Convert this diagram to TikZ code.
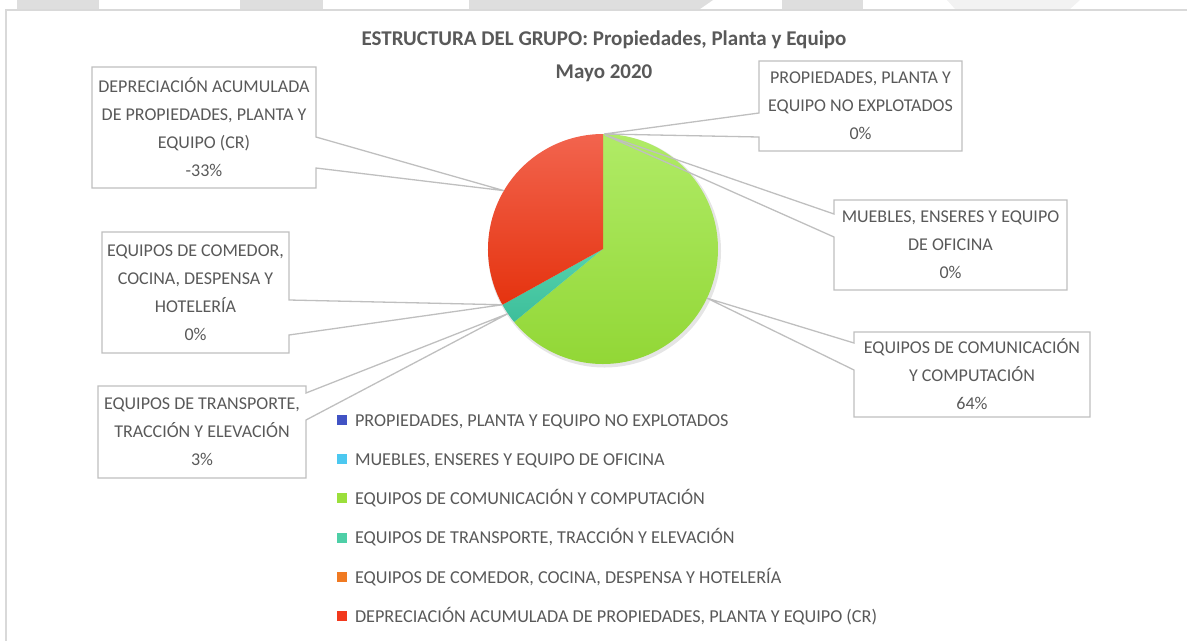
\documentclass[tikz,border=0pt]{standalone}
\usepackage{fontspec}
\setmainfont{Carlito}
\usetikzlibrary{positioning,calc}
\definecolor{txtgray}{HTML}{595959}
\definecolor{linegray}{HTML}{BFBFBF}
\definecolor{framegray}{HTML}{D9D9D9}
\definecolor{tabgray}{HTML}{DEDEDE}
\definecolor{tablight}{HTML}{F2F2F2}
\definecolor{legblue}{HTML}{4153C4}
\definecolor{legcyan}{HTML}{4CC8F0}
\definecolor{leggreen}{HTML}{9BDF3B}
\definecolor{legteal}{HTML}{4ECFA7}
\definecolor{legorange}{HTML}{F07A22}
\definecolor{legred}{HTML}{F2391D}
\definecolor{grntop}{HTML}{B0EB66}
\definecolor{grnbot}{HTML}{92D736}
\definecolor{redtop}{HTML}{F2644E}
\definecolor{redbot}{HTML}{E5330F}
\definecolor{tealtop}{HTML}{55D3AC}
\definecolor{tealbot}{HTML}{3DBE9B}
\begin{document}
\begin{tikzpicture}[x=1pt,y=1pt,inner sep=0pt,outer sep=0pt,
callout/.style={draw=linegray,line width=1.3pt,line join=miter},
lbl/.style={align=center,text=txtgray,font=\fontsize{18}{28}\selectfont},
ttl/.style={text=txtgray,font=\fontsize{21}{24}\bfseries\selectfont},
legsq/.style={minimum size=10pt},
legtxt/.style={anchor=west,text=txtgray,text height=12.5pt,text depth=0pt,font=\fontsize{18.2}{22}\selectfont}]
\useasboundingbox (0,0) rectangle (1187,-641);

% sheet tabs and chart frame
\fill[tabgray] (17,0) rectangle (99,-9);
\fill[tabgray] (240,0) rectangle (323,-9);
\fill[tabgray] (469,0) -- (713,0) -- (700,-9) -- (469,-9) -- cycle;
\fill[tabgray] (782,0) rectangle (863,-9);
\fill[tablight] (947,0) -- (1080,0) -- (1070,-9) -- (955,-9) -- cycle;
\draw[framegray,line width=1.5pt] (5,-10) -- (1187,-10);
\draw[framegray,line width=1.5pt] (6,-10) -- (6,-641);

% title
\node[ttl] (title) at (604,-40) {ESTRUCTURA DEL GRUPO: Propiedades, Planta y Equipo};
\node[ttl] (month) at (604,-73) {Mayo 2020};

% pie
\coordinate (c) at (603,-249);
\fill[black,opacity=0.10] ($(c)+(1.5,-2)$) circle[radius=116.5];
\shade[top color=grntop,bottom color=grnbot] (c) -- ++(90:115) arc[start angle=90,end angle=-140.6,radius=115] -- cycle;
\shade[top color=tealtop,bottom color=tealbot] (c) -- ++(-140.6:115) arc[start angle=-140.6,end angle=-151,radius=115] -- cycle;
\shade[top color=redtop,bottom color=redbot] (c) -- ++(209:115) arc[start angle=209,end angle=90,radius=115] -- cycle;

\coordinate (tdep) at ($(c)+(149.5:115)$);
\coordinate (tprop) at ($(c)+(1,115)$);
\coordinate (tmue) at ($(c)+(2,114)$);
\coordinate (tcom) at ($(c)+(-25.3:115)$);
\coordinate (tcome) at ($(c)+(209:115)$);
\coordinate (ttra) at ($(c)+(214.2:115)$);

% data labels
\node[lbl,minimum width=224pt,minimum height=121pt] (dep) at (204,-127.5)
  {DEPRECIACIÓN ACUMULADA\\DE PROPIEDADES, PLANTA Y\\EQUIPO (CR)\\-33\%};
\node[lbl,minimum width=203pt,minimum height=90pt] (prop) at (860.5,-106)
  {PROPIEDADES, PLANTA Y\\EQUIPO NO EXPLOTADOS\\0\%};
\node[lbl,minimum width=233pt,minimum height=90pt] (mue) at (950.5,-245)
  {MUEBLES, ENSERES Y EQUIPO\\DE OFICINA\\0\%};
\node[lbl,minimum width=236pt,minimum height=85pt] (com) at (972,-374.5)
  {EQUIPOS DE COMUNICACIÓN\\Y COMPUTACIÓN\\64\%};
\node[lbl,minimum width=187pt,minimum height=121pt] (come) at (195.5,-292.5)
  {EQUIPOS DE COMEDOR,\\COCINA, DESPENSA Y\\HOTELERÍA\\0\%};
\node[lbl,minimum width=208pt,minimum height=92pt] (tra) at (202,-432)
  {EQUIPOS DE TRANSPORTE,\\TRACCIÓN Y ELEVACIÓN\\3\%};

\draw[callout] (dep.north west) -- (dep.north east) -- (dep.east |- 0,-137) -- (tdep)
  -- (dep.east |- 0,-168) -- (dep.south east) -- (dep.south west) -- cycle;
\draw[callout] (come.north west) -- (come.north east) -- (come.east |- 0,-300) -- (tcome)
  -- (come.east |- 0,-335) -- (come.south east) -- (come.south west) -- cycle;
\draw[callout] (tra.north west) -- (tra.north east) -- (tra.east |- 0,-393) -- (ttra)
  -- (tra.east |- 0,-420) -- (tra.south east) -- (tra.south west) -- cycle;
\draw[callout] (prop.north east) -- (prop.north west) -- (prop.west |- 0,-113) -- (tprop)
  -- (prop.west |- 0,-137) -- (prop.south west) -- (prop.south east) -- cycle;
\draw[callout] (mue.north east) -- (mue.north west) -- (mue.west |- 0,-214) -- (tmue)
  -- (mue.west |- 0,-237) -- (mue.south west) -- (mue.south east) -- cycle;
\draw[callout] (com.north east) -- (com.north west) -- (com.west |- 0,-343) -- (tcom)
  -- (com.west |- 0,-370) -- (com.south west) -- (com.south east) -- cycle;

% legend
\foreach \col/\txt [count=\k] in {
  legblue/{PROPIEDADES, PLANTA Y EQUIPO NO EXPLOTADOS},
  legcyan/{MUEBLES, ENSERES Y EQUIPO DE OFICINA},
  leggreen/{EQUIPOS DE COMUNICACIÓN Y COMPUTACIÓN},
  legteal/{EQUIPOS DE TRANSPORTE, TRACCIÓN Y ELEVACIÓN},
  legorange/{EQUIPOS DE COMEDOR, COCINA, DESPENSA Y HOTELERÍA},
  legred/{DEPRECIACIÓN ACUMULADA DE PROPIEDADES, PLANTA Y EQUIPO (CR)}}{
  \node[legsq,fill=\col] (sq\k) at (342,{-420-39.2*(\k-1)}) {};
  \node[legtxt,right=8pt of sq\k] (leg\k) {\txt};
}
\end{tikzpicture}
\end{document}
